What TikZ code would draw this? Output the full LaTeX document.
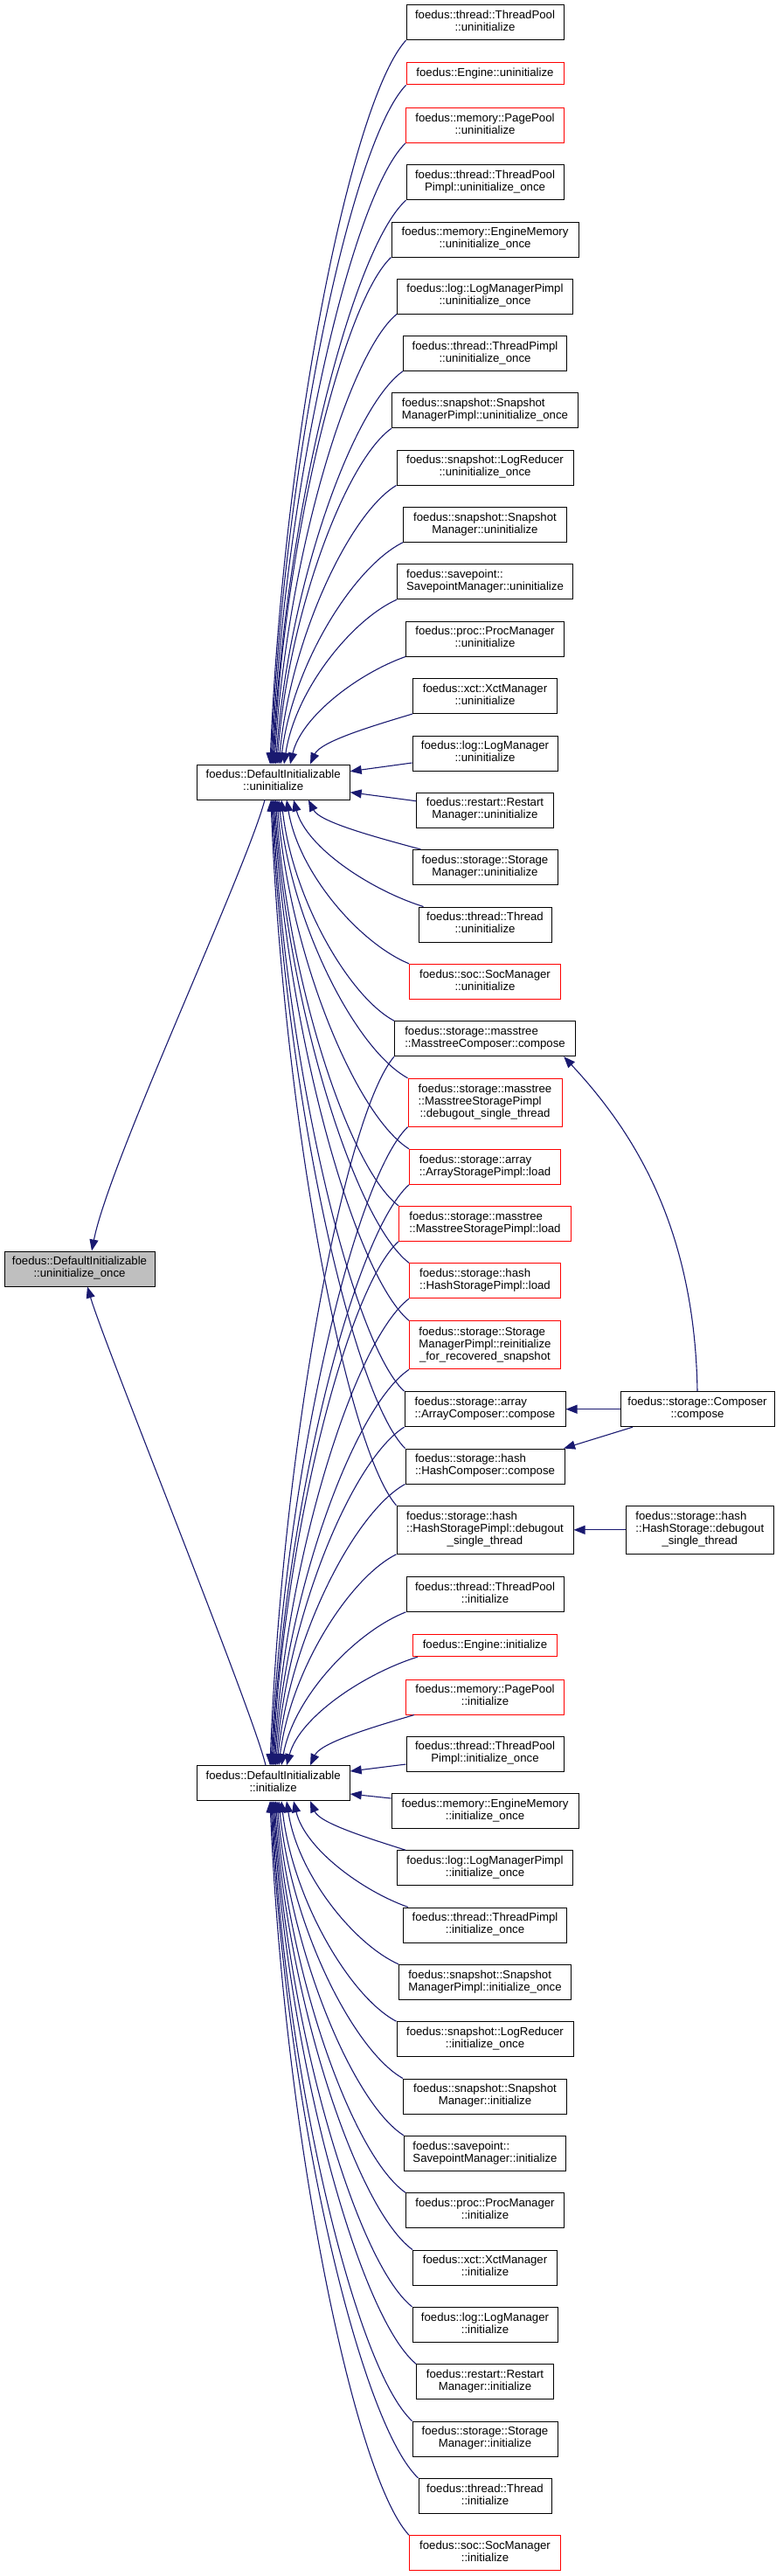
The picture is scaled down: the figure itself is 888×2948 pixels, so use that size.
\documentclass[tikz,border=0pt]{standalone}
\usepackage{fontspec}
\setmainfont{Liberation Sans}
\usetikzlibrary{arrows.meta,calc}
\definecolor{edgec}{HTML}{191970}
\definecolor{fillc}{HTML}{BFBFBF}
\newcommand{\twol}[2]{\begin{tabular}{@{}l@{}}#1\\\multicolumn{1}{@{}c@{}}{#2}\end{tabular}}
\newcommand{\threel}[3]{\begin{tabular}{@{}l@{}}#1\\#2\\\multicolumn{1}{@{}c@{}}{#3}\end{tabular}}
\tikzset{
  box/.style={draw=black, line width=1pt, fill=white, inner sep=0pt, minimum height=40pt, font=\fontsize{13.2}{14}\selectfont},
  redbox/.style={box, draw=red},
  greybox/.style={box, fill=fillc},
  edge/.style={draw=edgec, line width=1.1pt, -{Triangle[length=13pt,width=10pt]}},
}
% node above target
\newcommand{\eup}[2]{\draw[edge] let \p1=(#1),\p2=(#2),\n1={\x1-\x2},\n2={\y1-\y2} in
  (\p1) .. controls +({-0.4*\n1},{-0.07*\n2-10}) and +({0.1*\n1},{0.45*\n2}) .. (\p2);}
% node below target
\newcommand{\edn}[2]{\draw[edge] let \p1=(#1),\p2=(#2),\n1={\x1-\x2},\n2={\y1-\y2} in
  (\p1) .. controls +({-0.4*\n1},{-0.07*\n2+10}) and +({0.1*\n1},{0.45*\n2}) .. (\p2);}
\begin{document}
\begin{tikzpicture}[x=1pt,y=1pt]
\useasboundingbox (0,0) rectangle (888,-2948);
% right column
\node[box, minimum width=180pt] (n1) at (555,-25.7) {\twol{foedus::thread::ThreadPool}{::uninitialize}};
\node[redbox, minimum width=180pt, minimum height=25.3pt] (n2) at (555,-84.3) {foedus::Engine::uninitialize};
\node[redbox, minimum width=181pt] (n3) at (555,-143.3) {\twol{foedus::memory::PagePool}{::uninitialize}};
\node[box, minimum width=180pt] (n4) at (555,-208.7) {\twol{foedus::thread::ThreadPool}{Pimpl::uninitialize\_once}};
\node[box, minimum width=214pt] (n5) at (555,-274) {\twol{foedus::memory::EngineMemory}{::uninitialize\_once}};
\node[box, minimum width=201pt] (n6) at (555,-339) {\twol{foedus::log::LogManagerPimpl}{::uninitialize\_once}};
\node[box, minimum width=187pt] (n7) at (555,-404.3) {\twol{foedus::thread::ThreadPimpl}{::uninitialize\_once}};
\node[box, minimum width=213pt] (n8) at (555,-469.7) {\twol{foedus::snapshot::Snapshot}{ManagerPimpl::uninitialize\_once}};
\node[box, minimum width=202pt] (n9) at (555,-535) {\twol{foedus::snapshot::LogReducer}{::uninitialize\_once}};
\node[box, minimum width=187pt] (n10) at (555,-600.3) {\twol{foedus::snapshot::Snapshot}{Manager::uninitialize}};
\node[box, minimum width=201pt] (n11) at (555,-665.7) {\twol{foedus::savepoint::}{SavepointManager::uninitialize}};
\node[box, minimum width=181pt] (n12) at (555,-731) {\twol{foedus::proc::ProcManager}{::uninitialize}};
\node[box, minimum width=165pt] (n13) at (555,-796.5) {\twol{foedus::xct::XctManager}{::uninitialize}};
\node[box, minimum width=166pt] (n14) at (555,-862) {\twol{foedus::log::LogManager}{::uninitialize}};
\node[box, minimum width=157pt] (n15) at (555,-927) {\twol{foedus::restart::Restart}{Manager::uninitialize}};
\node[box, minimum width=166pt] (n16) at (555,-992.5) {\twol{foedus::storage::Storage}{Manager::uninitialize}};
\node[box, minimum width=152pt] (n17) at (555,-1058) {\twol{foedus::thread::Thread}{::uninitialize}};
\node[redbox, minimum width=173pt] (n18) at (555,-1123.3) {\twol{foedus::soc::SocManager}{::uninitialize}};
\node[box, minimum width=207pt] (n19) at (555,-1188.7) {\twol{foedus::storage::masstree}{::MasstreeComposer::compose}};
\node[redbox, minimum width=176pt, minimum height=55pt] (n20) at (555,-1261.7) {\threel{foedus::storage::masstree}{::MasstreeStoragePimpl}{::debugout\_single\_thread}};
\node[redbox, minimum width=173pt] (n21) at (555,-1335.3) {\twol{foedus::storage::array}{::ArrayStoragePimpl::load}};
\node[redbox, minimum width=197pt] (n22) at (555,-1400.3) {\twol{foedus::storage::masstree}{::MasstreeStoragePimpl::load}};
\node[redbox, minimum width=173pt] (n23) at (555,-1465.7) {\twol{foedus::storage::hash}{::HashStoragePimpl::load}};
\node[redbox, minimum width=173pt, minimum height=55pt] (n24) at (555,-1539.3) {\threel{foedus::storage::Storage}{ManagerPimpl::reinitialize}{\_for\_recovered\_snapshot}};
\node[box, minimum width=184pt] (n25) at (555,-1612.7) {\twol{foedus::storage::array}{::ArrayComposer::compose}};
\node[box, minimum width=182pt] (n26) at (555,-1678) {\twol{foedus::storage::hash}{::HashComposer::compose}};
\node[box, minimum width=202pt, minimum height=55pt] (n27) at (555,-1750.8) {\threel{foedus::storage::hash}{::HashStoragePimpl::debugout}{\_single\_thread}};
\node[box, minimum width=180pt] (n28) at (555,-1824.3) {\twol{foedus::thread::ThreadPool}{::initialize}};
\node[redbox, minimum width=165pt, minimum height=25.3pt] (n29) at (555,-1883) {foedus::Engine::initialize};
\node[redbox, minimum width=181pt] (n30) at (555,-1942) {\twol{foedus::memory::PagePool}{::initialize}};
\node[box, minimum width=180pt] (n31) at (555,-2007) {\twol{foedus::thread::ThreadPool}{Pimpl::initialize\_once}};
\node[box, minimum width=214pt] (n32) at (555,-2072.3) {\twol{foedus::memory::EngineMemory}{::initialize\_once}};
\node[box, minimum width=201pt] (n33) at (555,-2137.7) {\twol{foedus::log::LogManagerPimpl}{::initialize\_once}};
\node[box, minimum width=187pt] (n34) at (555,-2203) {\twol{foedus::thread::ThreadPimpl}{::initialize\_once}};
\node[box, minimum width=197pt] (n35) at (555,-2268.3) {\twol{foedus::snapshot::Snapshot}{ManagerPimpl::initialize\_once}};
\node[box, minimum width=202pt] (n36) at (555,-2333.7) {\twol{foedus::snapshot::LogReducer}{::initialize\_once}};
\node[box, minimum width=187pt] (n37) at (555,-2399) {\twol{foedus::snapshot::Snapshot}{Manager::initialize}};
\node[box, minimum width=185pt] (n38) at (555,-2464.3) {\twol{foedus::savepoint::}{SavepointManager::initialize}};
\node[box, minimum width=181pt] (n39) at (555,-2529.7) {\twol{foedus::proc::ProcManager}{::initialize}};
\node[box, minimum width=165pt] (n40) at (555,-2595) {\twol{foedus::xct::XctManager}{::initialize}};
\node[box, minimum width=166pt] (n41) at (555,-2660.3) {\twol{foedus::log::LogManager}{::initialize}};
\node[box, minimum width=157pt] (n42) at (555,-2725.7) {\twol{foedus::restart::Restart}{Manager::initialize}};
\node[box, minimum width=166pt] (n43) at (555,-2791) {\twol{foedus::storage::Storage}{Manager::initialize}};
\node[box, minimum width=152pt] (n44) at (555,-2856.3) {\twol{foedus::thread::Thread}{::initialize}};
\node[redbox, minimum width=173pt] (n45) at (555,-2921.7) {\twol{foedus::soc::SocManager}{::initialize}};
% middle and left
\node[box, minimum width=175pt] (nA) at (312.7,-895) {\twol{foedus::DefaultInitializable}{::uninitialize}};
\node[box, minimum width=175pt] (nB) at (312.7,-2040.7) {\twol{foedus::DefaultInitializable}{::initialize}};
\node[greybox, minimum width=172pt] (nC) at (91,-1452) {\twol{foedus::DefaultInitializable}{::uninitialize\_once}};
% third column
\node[box, minimum width=176pt] (comp) at (798,-1612.7) {\twol{foedus::storage::Composer}{::compose}};
\node[box, minimum width=169pt, minimum height=55pt] (hsd) at (800.8,-1750.8) {\threel{foedus::storage::hash}{::HashStorage::debugout}{\_single\_thread}};

% edges into A (from above)
\eup{n1.south west}{[xshift=-3.7pt]nA.north}
\eup{n2.south west}{[xshift=-2.7pt]nA.north}
\eup{n3.south west}{[xshift=-1.7pt]nA.north}
\eup{n4.south west}{[xshift=-0.7pt]nA.north}
\eup{n5.south west}{[xshift=0.3pt]nA.north}
\eup{n6.south west}{[xshift=1.3pt]nA.north}
\eup{n7.south west}{[xshift=2.8pt]nA.north}
\eup{n8.south west}{[xshift=4.3pt]nA.north}
\eup{n9.south west}{[xshift=6.3pt]nA.north}
\eup{n10.south west}{[xshift=8.3pt]nA.north}
\eup{n11.south west}{[xshift=12.3pt]nA.north}
\eup{n12.south west}{[xshift=19.3pt]nA.north}
\eup{n13.south west}{[xshift=42.3pt]nA.north}
\draw[edge] ([yshift=-11pt]n14.west) -- ([yshift=12.3pt]nA.east);
\draw[edge] ([yshift=10.3pt]n15.west) -- ([yshift=-11.7pt]nA.east);
% edges into A (from below)
\edn{[xshift=10pt]n16.north west}{[xshift=40.3pt]nA.south}
\edn{[xshift=6pt]n17.north west}{[xshift=23.3pt]nA.south}
\edn{n18.north west}{[xshift=15.3pt]nA.south}
\edn{n19.north west}{[xshift=9.3pt]nA.south}
\edn{n20.north west}{[xshift=6.3pt]nA.south}
\edn{n21.north west}{[xshift=4.3pt]nA.south}
\edn{n22.north west}{[xshift=2.8pt]nA.south}
\edn{n23.north west}{[xshift=1.3pt]nA.south}
\edn{n24.north west}{[xshift=0.3pt]nA.south}
\edn{n25.north west}{[xshift=-0.7pt]nA.south}
\edn{n26.north west}{[xshift=-1.7pt]nA.south}
\edn{n27.north west}{[xshift=-2.7pt]nA.south}
% edges into B (from above)
\eup{n19.south west}{[xshift=-3.7pt]nB.north}
\eup{n20.south west}{[xshift=-2.7pt]nB.north}
\eup{n21.south west}{[xshift=-1.7pt]nB.north}
\eup{n22.south west}{[xshift=-0.7pt]nB.north}
\eup{n23.south west}{[xshift=0.3pt]nB.north}
\eup{n24.south west}{[xshift=1.3pt]nB.north}
\eup{n25.south west}{[xshift=2.8pt]nB.north}
\eup{n26.south west}{[xshift=4.3pt]nB.north}
\eup{n27.south west}{[xshift=6.3pt]nB.north}
\eup{n28.south west}{[xshift=9.3pt]nB.north}
\eup{[xshift=6pt]n29.south west}{[xshift=15.3pt]nB.north}
\eup{[xshift=10pt]n30.south west}{[xshift=42.3pt]nB.north}
\draw[edge] ([yshift=-12pt]n31.west) -- ([yshift=13.7pt]nB.east);
\draw[edge] ([yshift=14.3pt]n32.west) -- ([yshift=-12.3pt]nB.east);
% edges into B (from below)
\edn{[xshift=10pt]n33.north west}{[xshift=42.3pt]nB.south}
\edn{[xshift=6pt]n34.north west}{[xshift=23.3pt]nB.south}
\edn{n35.north west}{[xshift=15.3pt]nB.south}
\edn{n36.north west}{[xshift=9.3pt]nB.south}
\edn{n37.north west}{[xshift=6.3pt]nB.south}
\edn{n38.north west}{[xshift=4.3pt]nB.south}
\edn{n39.north west}{[xshift=2.8pt]nB.south}
\edn{n40.north west}{[xshift=1.3pt]nB.south}
\edn{n41.north west}{[xshift=0.3pt]nB.south}
\edn{n42.north west}{[xshift=-0.7pt]nB.south}
\edn{n43.north west}{[xshift=-1.7pt]nB.south}
\edn{n44.north west}{[xshift=-2.7pt]nB.south}
\edn{n45.north west}{[xshift=-3.7pt]nB.south}
% edges into C
\draw[edge] ([xshift=-9.7pt]nA.south) .. controls +(-23,-85) and +(20,102) .. ([xshift=14pt]nC.north);
\draw[edge] ([xshift=-8.7pt]nB.north) .. controls +(-14,60.7) and +(20,-68) .. ([xshift=9pt]nC.south);
% third column edges
\draw[edge] (comp.north) .. controls +(-3,192.7) and +(75.6,-81.3) .. ([xshift=-13.8pt]n19.south east);
\draw[edge] (comp.west) -- (n25.east);
\draw[edge] ([xshift=14.4pt]comp.south west) -- ([xshift=-1.4pt]n26.north east);
\draw[edge] (hsd.west) -- (n27.east);
\end{tikzpicture}
\end{document}
